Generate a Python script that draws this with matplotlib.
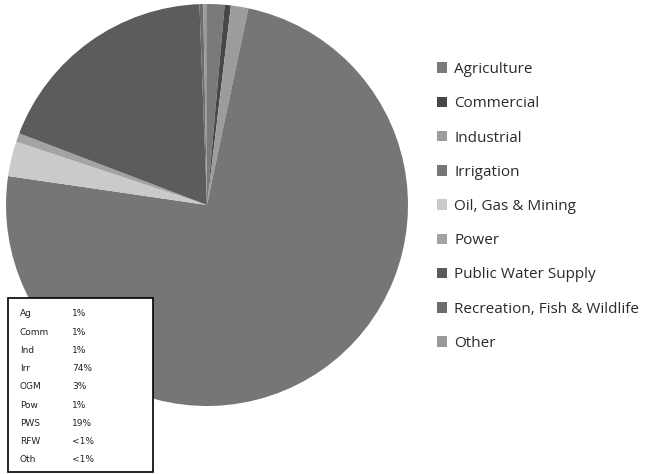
import matplotlib.pyplot as plt
from matplotlib.patches import Rectangle, Patch

# DATA
categories = ["Agriculture", "Commercial", "Industrial", "Irrigation", "Oil, Gas & Mining",
              "Power", "Public Water Supply", "Recreation, Fish & Wildlife", "Other"]
values = [1.4, 0.5, 1.4, 74.0, 2.8, 0.7, 18.6, 0.3, 0.3]
colors = ["#7a7a7a", "#474747", "#9c9c9c", "#767676", "#cacaca",
          "#a3a3a3", "#5c5c5c", "#6c6c6c", "#9a9a9a"]
abbrev = ["Ag", "Comm", "Ind", "Irr", "OGM", "Pow", "PWS", "RFW", "Oth"]
pct_labels = ["1%", "1%", "1%", "74%", "3%", "1%", "19%", "<1%", "<1%"]

W, H = 661, 474
fig = plt.figure(figsize=(W / 100, H / 100), dpi=100)

# Pie
cx, cy, r = 207, 205, 201
ax = fig.add_axes([(cx - r) / W, (H - cy - r) / H, 2 * r / W, 2 * r / H])
ax.pie(values, colors=colors, startangle=90, counterclock=False, radius=1,
       wedgeprops=dict(linewidth=0))
ax.set_xlim(-1, 1)
ax.set_ylim(-1, 1)
ax.set_aspect("auto")
ax.axis("off")

# Legend
handles = [Patch(facecolor=c, edgecolor="none") for c in colors]
fig.legend(handles, categories, loc="upper left", bbox_to_anchor=(437 / W, 1 - 62 / H),
           frameon=False, labelspacing=1.26, handlelength=0.68,
           handleheight=0.68, handletextpad=0.45, labelcolor="#2a2a2a",
           borderpad=0, borderaxespad=0,
           prop={"family": "Open Sans", "size": 11})

# Abbreviation box
box = Rectangle((8 / W, 1 - 472 / H), 145 / W, 174 / H, transform=fig.transFigure,
                facecolor="white", edgecolor="black", linewidth=1.2, zorder=5)
fig.add_artist(box)
for i, (a, p) in enumerate(zip(abbrev, pct_labels)):
    y = 1 - (314 + i * 18.2) / H
    fig.text(20 / W, y, a, fontsize=6.5, va="center", color="#222222", zorder=6)
    fig.text(72 / W, y, p, fontsize=6.5, va="center", color="#222222", zorder=6)

plt.savefig("out.png", dpi=100)
